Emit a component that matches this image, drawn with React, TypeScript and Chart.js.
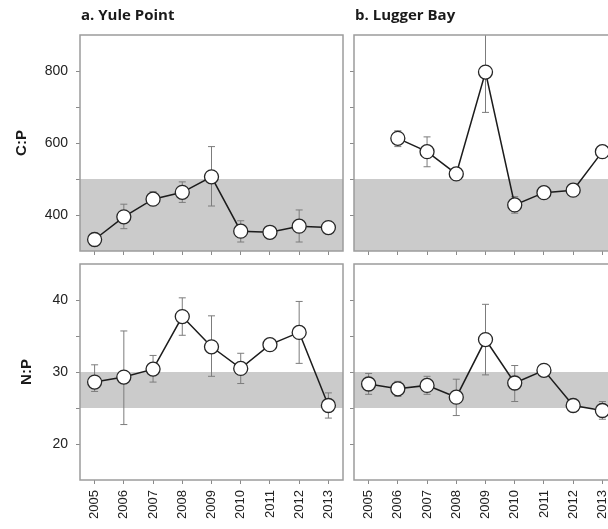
import React, { useEffect, useRef } from 'react';
import { Chart, registerables } from 'chart.js';

Chart.register(...registerables);

// ---- data ----
const years = ['2005', '2006', '2007', '2008', '2009', '2010', '2011', '2012', '2013'];

const cpYule = [332, 395, 444, 463, 506, 355, 352, 369, 365];
const cpYuleLo = [null, 362, 426, 435, 425, 325, null, 325, null];
const cpYuleHi = [null, 430, 465, 492, 590, 384, null, 414, null];

const cpLugger = [null, 613, 576, 514, 797, 428, 462, 469, 576];
const cpLuggerLo = [null, 590, 534, null, 685, 405, null, null, null];
const cpLuggerHi = [null, 634, 617, null, 905, 451, null, null, null];

const npYule = [28.6, 29.3, 30.4, 37.7, 33.5, 30.5, 33.8, 35.5, 25.35];
const npYuleLo = [27.3, 22.7, 28.6, 35.1, 29.4, 28.4, null, 31.2, 23.6];
const npYuleHi = [31.0, 35.7, 32.3, 40.3, 37.8, 32.6, null, 39.8, 27.1];

const npLugger = [28.33, 27.67, 28.14, 26.5, 34.5, 28.47, 30.23, 25.35, 24.65];
const npLuggerLo = [26.9, 26.6, 26.9, 23.95, 29.6, 25.9, null, null, 23.44];
const npLuggerHi = [29.8, 28.7, 29.4, 29.0, 39.4, 30.9, null, null, 25.9];

const cpRange = [300, 900];
const cpTicks = [400, 500, 600, 700, 800];
const cpLabels = [400, 600, 800];
const cpBand = [300, 500];

const npRange = [15, 45];
const npTicks = [20, 25, 30, 35, 40];
const npLabels = [20, 30, 40];
const npBand = [25, 30];

const panelTitles = ['a. Yule Point', 'b. Lugger Bay'];
const yTitles = ['C:P', 'N:P'];

// ---- layout ----
const CW = 630;
const CH = 529;

type Spec = {
  values: (number | null)[];
  lo: (number | null)[];
  hi: (number | null)[];
  range: number[];
  ticks: number[];
  labels: number[];
  band: number[];
  yTitle: string | null;
  panelTitle: string | null;
  showX: boolean;
  padding: { left: number; right: number; top: number; bottom: number };
  yWidth: number;
  xHeight: number;
};

const specs: Spec[] = [
  {
    values: cpYule, lo: cpYuleLo, hi: cpYuleHi, range: cpRange, ticks: cpTicks, labels: cpLabels, band: cpBand,
    yTitle: yTitles[0], panelTitle: panelTitles[0], showX: false,
    padding: { left: 13, right: CW - 343, top: 35, bottom: CH - 251 - 6 }, yWidth: 67, xHeight: 6,
  },
  {
    values: cpLugger, lo: cpLuggerLo, hi: cpLuggerHi, range: cpRange, ticks: cpTicks, labels: cpLabels, band: cpBand,
    yTitle: null, panelTitle: panelTitles[1], showX: false,
    padding: { left: 344, right: 13, top: 35, bottom: CH - 251 - 6 }, yWidth: 10, xHeight: 6,
  },
  {
    values: npYule, lo: npYuleLo, hi: npYuleHi, range: npRange, ticks: npTicks, labels: npLabels, band: npBand,
    yTitle: yTitles[1], panelTitle: null, showX: true,
    padding: { left: 18, right: CW - 343, top: 264, bottom: 0 }, yWidth: 62, xHeight: 49,
  },
  {
    values: npLugger, lo: npLuggerLo, hi: npLuggerHi, range: npRange, ticks: npTicks, labels: npLabels, band: npBand,
    yTitle: null, panelTitle: null, showX: true,
    padding: { left: 344, right: 13, top: 264, bottom: 0 }, yWidth: 10, xHeight: 49,
  },
];

const tickFont = { family: '"Liberation Sans", Arial, sans-serif', size: 14 };

function makeChart(canvas: HTMLCanvasElement, spec: Spec) {
  const deco = {
    id: 'panelDeco',
    beforeDatasetsDraw(chart: any) {
      const { ctx, chartArea: a, scales } = chart;
      const x = scales.x;
      const y = scales.y;
      ctx.save();
      const yTop = y.getPixelForValue(spec.band[1]);
      const yBot = y.getPixelForValue(spec.band[0]);
      ctx.fillStyle = '#cbcbcb';
      ctx.fillRect(a.left, Math.max(a.top, yTop), a.right - a.left, Math.min(a.bottom, yBot) - Math.max(a.top, yTop));
      ctx.beginPath();
      ctx.rect(a.left, a.top, a.right - a.left, a.bottom - a.top);
      ctx.clip();
      ctx.strokeStyle = '#7c7c7c';
      ctx.lineWidth = 1;
      spec.lo.forEach((lo, i) => {
        const hi = spec.hi[i];
        if (lo == null || hi == null) return;
        const px = x.getPixelForValue(i);
        const p1 = y.getPixelForValue(lo);
        const p2 = y.getPixelForValue(hi);
        ctx.beginPath();
        ctx.moveTo(px, p1);
        ctx.lineTo(px, p2);
        ctx.moveTo(px - 3.5, p1);
        ctx.lineTo(px + 3.5, p1);
        ctx.moveTo(px - 3.5, p2);
        ctx.lineTo(px + 3.5, p2);
        ctx.stroke();
      });
      ctx.restore();
    },
    afterDraw(chart: any) {
      const { ctx, chartArea: a } = chart;
      ctx.save();
      ctx.strokeStyle = '#9c9c9c';
      ctx.lineWidth = 1.5;
      ctx.strokeRect(a.left, a.top, a.right - a.left, a.bottom - a.top);
      if (spec.panelTitle) {
        ctx.fillStyle = '#1a1a1a';
        ctx.font = 'bold 15px "Open Sans", sans-serif';
        ctx.textBaseline = 'alphabetic';
        ctx.textAlign = 'left';
        ctx.fillText(spec.panelTitle, a.left + 1, 20);
      }
      ctx.restore();
    },
  };

  return new Chart(canvas, {
    type: 'line',
    data: {
      labels: years,
      datasets: [
        {
          data: spec.values,
          borderColor: '#1c1c1c',
          borderWidth: 1.5,
          pointRadius: 7,
          pointHoverRadius: 7,
          pointBackgroundColor: '#ffffff',
          pointBorderColor: '#262626',
          pointBorderWidth: 1.3,
          spanGaps: false,
          clip: false as any,
          tension: 0,
        },
      ],
    },
    options: {
      responsive: false,
      animation: false,
      devicePixelRatio: 1,
      layout: { padding: spec.padding },
      plugins: {
        legend: { display: false },
        tooltip: { enabled: false },
        title: { display: false },
      },
      scales: {
        x: {
          type: 'category',
          offset: true,
          afterFit: (s: any) => { s.height = spec.xHeight; },
          ticks: {
            display: spec.showX,
            maxRotation: 90,
            minRotation: 90,
            autoSkip: false,
            font: { family: tickFont.family, size: 13 },
            color: '#222',
            padding: 6,
          },
          grid: { offset: false, drawOnChartArea: false, drawTicks: true, tickLength: 4, color: '#8a8a8a' },
          border: { display: false },
        },
        y: {
          type: 'linear',
          min: spec.range[0],
          max: spec.range[1],
          afterBuildTicks: (s: any) => { s.ticks = spec.ticks.map((v) => ({ value: v })); },
          afterFit: (s: any) => { s.width = spec.yWidth; },
          ticks: {
            display: spec.yTitle != null,
            callback: (v: any) => (spec.labels.includes(Number(v)) ? String(v) : ''),
            font: tickFont,
            color: '#222',
            padding: 8,
          },
          grid: { drawOnChartArea: false, drawTicks: true, tickLength: 4, color: '#8a8a8a' },
          border: { display: false },
          title: {
            display: spec.yTitle != null,
            text: spec.yTitle || '',
            font: { family: tickFont.family, size: 15, weight: 'bold' },
            color: '#1a1a1a',
            padding: 0,
          },
        },
      },
    } as any,
    plugins: [deco],
  });
}

function Panel({ spec }: { spec: Spec }) {
  const ref = useRef<HTMLCanvasElement>(null);
  useEffect(() => {
    if (!ref.current) return;
    const c = makeChart(ref.current, spec);
    return () => c.destroy();
  }, [spec]);
  return (
    <canvas
      ref={ref}
      width={CW}
      height={CH}
      style={{ position: 'absolute', left: 0, top: 0, width: CW, height: CH }}
    />
  );
}

export default function App() {
  return (
    <div
      style={{
        position: 'absolute',
        left: 0,
        top: 0,
        width: 608,
        height: 529,
        overflow: 'hidden',
        background: '#ffffff',
      }}
    >
      {specs.map((s, i) => (
        <Panel key={i} spec={s} />
      ))}
    </div>
  );
}
